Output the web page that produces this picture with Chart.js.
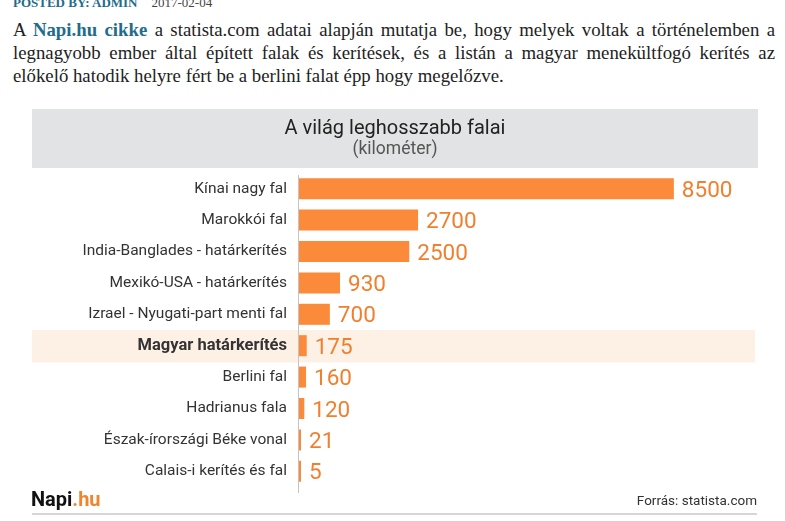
<!DOCTYPE html>
<html>
<head>
<meta charset="utf-8">
<script src="https://cdn.jsdelivr.net/npm/chart.js@4.4.0/dist/chart.umd.min.js"></script>
<style>
  body { margin: 0; width: 785px; height: 521px; overflow: hidden; background: #fff; position: relative; }
  .meta { position: absolute; left: 13px; top: -4px; font: 13px/13px "Liberation Serif", serif; white-space: nowrap; }
  .meta b { color: #1f6c8c; }
  .meta span { color: #444; margin-left: 14px; }
  .intro { position: absolute; left: 13px; top: 18px; width: 762px; margin: 0;
           font: 18.8px/23px "Liberation Serif", serif; color: #222; text-align: justify; }
  .intro b { color: #1f6c8c; }
  #wrap { position: absolute; left: 32px; top: 109px; width: 726px; height: 412px; }
</style>
</head>
<body>
<div class="meta"><b>POSTED BY: ADMIN</b><span>2017-02-04</span></div>
<p class="intro">A <b>Napi.hu cikke</b> a statista.com adatai alapján mutatja be, hogy melyek voltak a történelemben a legnagyobb ember által épített falak és kerítések, és a listán a magyar menekültfogó kerítés az előkelő hatodik helyre fért be a berlini falat épp hogy megelőzve.</p>
<div id="wrap"><canvas id="wallsChart" width="726" height="412"></canvas></div>
<script>
const categories = [
  'Kínai nagy fal',
  'Marokkói fal',
  'India-Banglades - határkerítés',
  'Mexikó-USA - határkerítés',
  'Izrael - Nyugati-part menti fal',
  'Magyar határkerítés',
  'Berlini fal',
  'Hadrianus fala',
  'Észak-írországi Béke vonal',
  'Calais-i kerítés és fal'
];
const lengths = [8500, 2700, 2500, 930, 700, 175, 160, 120, 21, 5];
const highlightIndex = 5;
const titleText = 'A világ leghosszabb falai';
const subtitleText = '(kilométer)';

const ORANGE = '#fb8a3b';
const LABEL_ORANGE = '#f07f2e';

Chart.defaults.font.family = 'Roboto';

// header box, highlight row, axis line, footer
const decorations = {
  id: 'decorations',
  beforeDraw(chart) {
    const ctx = chart.ctx;
    const y = chart.scales.y;
    const area = chart.chartArea;
    ctx.save();
    ctx.fillStyle = '#e2e3e4';
    ctx.fillRect(0, 0, 726, 59);

    const band = (y.getPixelForValue(1) - y.getPixelForValue(0));
    const hy = y.getPixelForValue(highlightIndex);
    ctx.fillStyle = '#fdf0e5';
    ctx.fillRect(0, hy - band / 2, 723, band + 1);

    ctx.fillStyle = '#222';
    ctx.textAlign = 'center';
    ctx.font = '20px Roboto';
    ctx.fillText(titleText, 363, 25);
    ctx.fillStyle = '#555';
    ctx.font = '17.5px Roboto';
    ctx.fillText(subtitleText, 363, 45);

    ctx.strokeStyle = '#c4c4c4';
    ctx.lineWidth = 1;
    ctx.beginPath();
    ctx.moveTo(area.left - 0.5, area.top + 2);
    ctx.lineTo(area.left - 0.5, area.bottom + 6);
    ctx.stroke();

    ctx.textAlign = 'left';
    ctx.font = 'bold 20px Roboto';
    ctx.fillStyle = '#111';
    ctx.fillText('Napi', -1, 397);
    const w = ctx.measureText('Napi').width;
    ctx.fillStyle = '#f0852d';
    ctx.fillText('.hu', -1 + w, 397);

    ctx.textAlign = 'right';
    ctx.font = '13.5px Roboto';
    ctx.fillStyle = '#333';
    ctx.fillText('Forrás: statista.com', 725, 396);

    ctx.fillStyle = '#d6d6d6';
    ctx.fillRect(0, 404, 725, 2);
    ctx.restore();
  },
  afterDatasetsDraw(chart) {
    const ctx = chart.ctx;
    const meta = chart.getDatasetMeta(0);
    ctx.save();
    ctx.font = '22.5px Roboto';
    ctx.fillStyle = LABEL_ORANGE;
    ctx.textAlign = 'left';
    ctx.textBaseline = 'alphabetic';
    meta.data.forEach((bar, i) => {
      ctx.fillText(String(lengths[i]), bar.x + 8, bar.y + 8);
    });
    ctx.restore();
  }
};

new Chart(document.getElementById('wallsChart'), {
  type: 'bar',
  data: {
    labels: categories,
    datasets: [{
      data: lengths,
      backgroundColor: ORANGE,
      categoryPercentage: 1,
      barPercentage: 0.67,
      minBarLength: 2
    }]
  },
  options: {
    indexAxis: 'y',
    responsive: false,
    animation: false,
    layout: { padding: { top: 64, bottom: 34, right: 18, left: 0 } },
    plugins: { legend: { display: false }, tooltip: { enabled: false } },
    scales: {
      x: { display: false, min: 0, max: 10000 },
      y: {
        afterFit(scale) { scale.width = 267; },
        grid: { display: false, drawTicks: false },
        border: { display: false },
        ticks: {
          padding: 12,
          color: '#333',
          font: (c) => c.index === highlightIndex
            ? { size: 16.5, weight: 'bold' }
            : { size: 15.5, weight: 'normal' }
        }
      }
    }
  },
  plugins: [decorations]
});
</script>
</body>
</html>
